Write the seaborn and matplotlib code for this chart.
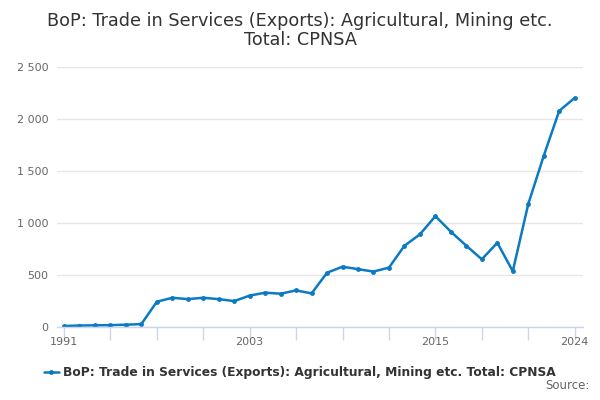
import matplotlib.pyplot as plt
import matplotlib.ticker as mticker
import seaborn as sns
import pandas as pd

# data
years = list(range(1991, 2025))
values = [10, 14, 16, 18, 22, 28, 243, 281, 268, 281, 268, 249,
          302, 330, 320, 352, 323, 522, 580, 556, 533, 571, 781, 891,
          1066, 916, 781, 651, 810, 537, 1182, 1646, 2078, 2203]
series_name = "BoP: Trade in Services (Exports): Agricultural, Mining etc. Total: CPNSA"
title = "BoP: Trade in Services (Exports): Agricultural, Mining etc.\nTotal: CPNSA"
tick_years = list(range(1991, 2025, 3))
label_years = [1991, 2003, 2015, 2024]

df = pd.DataFrame({"year": years, "value": values})

sns.set_style("white")
plt.rcParams['font.family'] = ['DejaVu Sans']

fig = plt.figure(figsize=(6, 4), dpi=100)
ax = fig.add_axes([0.095, 0.1825, 0.877, 0.65])

line_color = "#0a7ac3"
sns.lineplot(data=df, x="year", y="value", ax=ax, color=line_color,
             linewidth=1.8, marker="o", markersize=3.5, markeredgewidth=0,
             label=series_name, legend=False)

ax.set_xlim(1990.55, 2024.55)
ax.set_ylim(0, 2500)
ax.set_xlabel("")
ax.set_ylabel("")

# y axis: grid lines, no ticks, space thousands separator
ax.yaxis.set_major_locator(mticker.MultipleLocator(500))
ax.yaxis.set_major_formatter(mticker.FuncFormatter(
    lambda v, p: f"{int(v):,}".replace(",", " ")))
ax.grid(axis="y", color="#e6e6e6", linewidth=1)
ax.tick_params(axis="y", left=False, length=0, labelsize=8,
               labelcolor="#666666", pad=6)

# x axis: ticks every 3 years, labels on a few
ax.set_xticks(tick_years)
ax.set_xticklabels([str(y) if y in label_years else "" for y in tick_years])
ax.tick_params(axis="x", bottom=True, direction="out", length=9, width=1,
               color="#ccd6eb", labelsize=8, labelcolor="#666666", pad=-2)

for s in ["top", "right", "left"]:
    ax.spines[s].set_visible(False)
ax.spines["bottom"].set_color("#ccd6eb")
ax.spines["bottom"].set_linewidth(1)

fig.suptitle(title, y=0.97, fontsize=12.7, color="#333333", linespacing=1.1)

handles, labels = ax.get_legend_handles_labels()
fig.legend(handles, labels, loc="center", bbox_to_anchor=(0.5, 0.068),
           frameon=False, prop={"weight": "bold", "size": 8.8},
           labelcolor="#333333", handlelength=1.2, handletextpad=0.4)

fig.text(0.982, 0.02, "Source:", ha="right", va="bottom", fontsize=8.5,
         color="#666666")

fig.savefig("out.png", dpi=100)
